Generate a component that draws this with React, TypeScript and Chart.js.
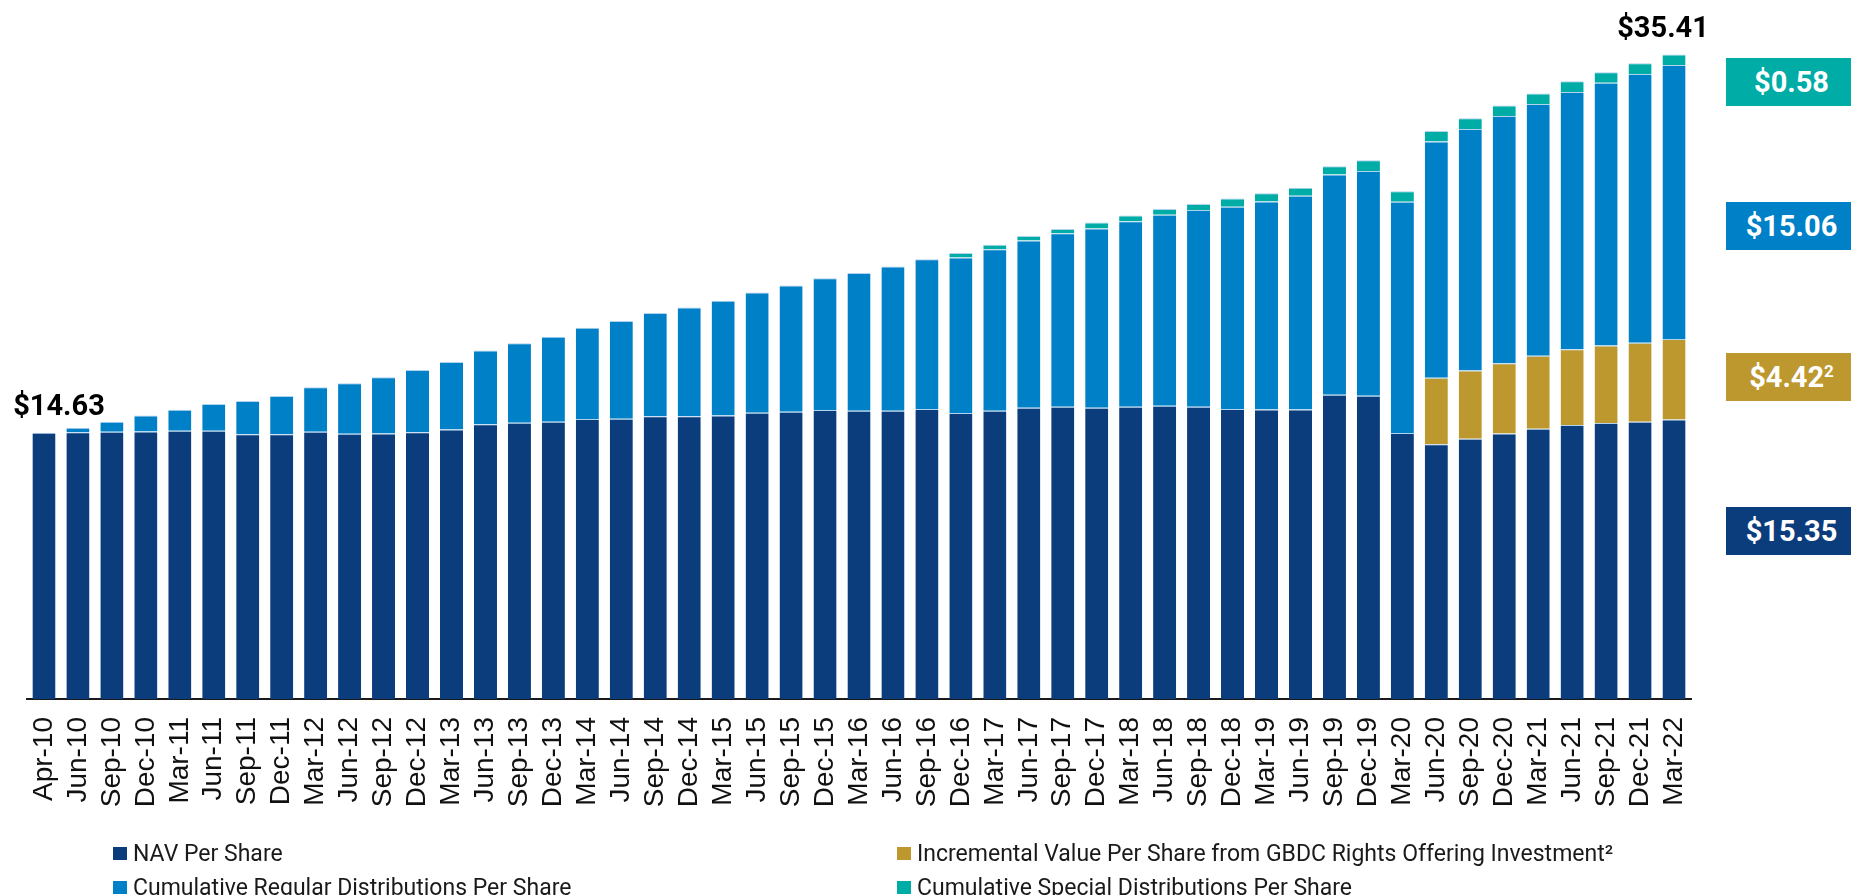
import React, { useEffect, useRef } from 'react';
import { Chart, registerables } from 'chart.js';

Chart.register(...registerables);

const categories = [
  'Apr-10', 'Jun-10', 'Sep-10', 'Dec-10',
  'Mar-11', 'Jun-11', 'Sep-11', 'Dec-11',
  'Mar-12', 'Jun-12', 'Sep-12', 'Dec-12',
  'Mar-13', 'Jun-13', 'Sep-13', 'Dec-13',
  'Mar-14', 'Jun-14', 'Sep-14', 'Dec-14',
  'Mar-15', 'Jun-15', 'Sep-15', 'Dec-15',
  'Mar-16', 'Jun-16', 'Sep-16', 'Dec-16',
  'Mar-17', 'Jun-17', 'Sep-17', 'Dec-17',
  'Mar-18', 'Jun-18', 'Sep-18', 'Dec-18',
  'Mar-19', 'Jun-19', 'Sep-19', 'Dec-19',
  'Mar-20', 'Jun-20', 'Sep-20', 'Dec-20',
  'Mar-21', 'Jun-21', 'Sep-21', 'Dec-21',
  'Mar-22',
];

const navPerShare = [
  14.63, 14.65, 14.68, 14.70,
  14.74, 14.74, 14.54, 14.54,
  14.68, 14.57, 14.59, 14.65,
  14.81, 15.10, 15.17, 15.23,
  15.38, 15.39, 15.53, 15.53,
  15.58, 15.72, 15.78, 15.87,
  15.83, 15.83, 15.93, 15.71,
  15.83, 16.00, 16.05, 16.00,
  16.05, 16.11, 16.05, 15.93,
  15.91, 15.91, 16.71, 16.66,
  14.61, 14.00, 14.30, 14.59,
  14.84, 15.05, 15.16, 15.23,
  15.35,
];

const rightsOfferingValue = [
  0, 0, 0, 0,
  0, 0, 0, 0,
  0, 0, 0, 0,
  0, 0, 0, 0,
  0, 0, 0, 0,
  0, 0, 0, 0,
  0, 0, 0, 0,
  0, 0, 0, 0,
  0, 0, 0, 0,
  0, 0, 0, 0,
  0, 3.65, 3.75, 3.86,
  4.01, 4.16, 4.26, 4.34,
  4.42,
];

const regularDistributions = [
  0, 0.25, 0.55, 0.88,
  1.15, 1.46, 1.83, 2.10,
  2.45, 2.77, 3.09, 3.42,
  3.70, 4.05, 4.38, 4.67,
  5.01, 5.37, 5.67, 5.98,
  6.30, 6.61, 6.94, 7.25,
  7.57, 7.93, 8.23, 8.55,
  8.88, 9.19, 9.53, 9.85,
  10.19, 10.49, 10.82, 11.11,
  11.42, 11.73, 12.11, 12.35,
  12.70, 12.98, 13.27, 13.58,
  13.84, 14.14, 14.43, 14.77,
  15.06,
];

const specialDistributions = [
  0, 0, 0, 0,
  0, 0, 0, 0,
  0, 0, 0, 0,
  0, 0, 0, 0,
  0, 0, 0, 0,
  0, 0, 0, 0,
  0, 0, 0, 0.24,
  0.24, 0.24, 0.24, 0.32,
  0.32, 0.32, 0.32, 0.45,
  0.45, 0.45, 0.45, 0.58,
  0.58, 0.58, 0.58, 0.58,
  0.58, 0.58, 0.58, 0.58,
  0.58,
];

const seriesNames = [
  'NAV Per Share',
  'Incremental Value Per Share from GBDC Rights Offering Investment²',
  'Cumulative Regular Distributions Per Share',
  'Cumulative Special Distributions Per Share',
];

const seriesColors = ['#0b3c7c', '#bd982e', '#0080c6', '#00aca6'];

const FONT = 'Roboto, "Noto Sans", sans-serif';
const TICK_FONT = '"Liberation Sans", Arial, sans-serif';

const totalAt = (i: number) =>
  navPerShare[i] + rightsOfferingValue[i] + regularDistributions[i] + specialDistributions[i];

const nz = (arr: number[]) => arr.map((v) => (v === 0 ? null : v));

const valueLabels = {
  id: 'valueLabels',
  afterDatasetsDraw(chart: any) {
    const ctx = chart.ctx;
    const last = categories.length - 1;
    const first = chart.getDatasetMeta(0).data[0];
    const top = chart.getDatasetMeta(3).data[last];
    ctx.save();
    ctx.font = `bold 29px ${FONT}`;
    ctx.fillStyle = '#000';
    ctx.textAlign = 'center';
    ctx.textBaseline = 'alphabetic';
    ctx.fillText('$' + totalAt(0).toFixed(2), first.x + 15, first.y - 18);
    ctx.fillText('$' + totalAt(last).toFixed(2), top.x - 11, top.y - 17);
    ctx.restore();
  },
};

export default function App() {
  const canvasRef = useRef<HTMLCanvasElement | null>(null);

  useEffect(() => {
    const canvas = canvasRef.current;
    if (!canvas) return;
    const barStyle = {
      categoryPercentage: 1,
      barPercentage: 0.68,
      borderWidth: { top: 1, left: 0, right: 0, bottom: 0 },
      borderColor: 'rgba(170,205,235,0.9)',
      borderSkipped: false,
    };
    const chart = new Chart(canvas, {
      type: 'bar',
      data: {
        labels: categories,
        datasets: [
          { label: seriesNames[0], data: nz(navPerShare), backgroundColor: seriesColors[0], ...barStyle },
          { label: seriesNames[1], data: nz(rightsOfferingValue), backgroundColor: seriesColors[1], ...barStyle },
          { label: seriesNames[2], data: nz(regularDistributions), backgroundColor: seriesColors[2], ...barStyle },
          { label: seriesNames[3], data: nz(specialDistributions), backgroundColor: seriesColors[3], ...barStyle },
        ] as any,
      },
      options: {
        responsive: false,
        animation: false,
        devicePixelRatio: 1,
        layout: { padding: { left: 27, right: 160, top: 0, bottom: 0 } },
        plugins: {
          legend: { display: false },
          tooltip: { enabled: false },
        },
        scales: {
          x: {
            stacked: true,
            grid: { display: false, drawTicks: false },
            border: { display: true, color: '#1a1a1a', width: 2 },
            ticks: {
              autoSkip: false,
              minRotation: 90,
              maxRotation: 90,
              padding: 18,
              color: '#111',
              font: { family: TICK_FONT, size: 28 },
            },
            afterFit: (scale: any) => {
              scale.height = 196;
            },
          },
          y: {
            stacked: true,
            display: false,
            min: 0,
            max: 38.4,
          },
        },
      },
      plugins: [valueLabels],
    });
    return () => chart.destroy();
  }, []);

  const last = categories.length - 1;
  const sideBoxes = [
    { text: '$' + specialDistributions[last].toFixed(2), sup: '', color: seriesColors[3], top: 58 },
    { text: '$' + regularDistributions[last].toFixed(2), sup: '', color: seriesColors[2], top: 202 },
    { text: '$' + rightsOfferingValue[last].toFixed(2), sup: '2', color: seriesColors[1], top: 353 },
    { text: '$' + navPerShare[last].toFixed(2), sup: '', color: seriesColors[0], top: 507 },
  ];

  const legendPos = [
    { left: 113, top: 840 },
    { left: 897, top: 840 },
    { left: 113, top: 874 },
    { left: 897, top: 874 },
  ];

  return (
    <div style={{ position: 'absolute', left: 0, top: 0, width: 1851, height: 895, overflow: 'hidden', background: '#fff' }}>
      <canvas ref={canvasRef} width={1851} height={895} style={{ position: 'absolute', left: 0, top: 0, width: 1851, height: 895 }} />
      {sideBoxes.map((b, i) => (
        <div
          key={i}
          style={{
            position: 'absolute',
            left: 1726,
            top: b.top,
            width: 125,
            height: 48,
            background: b.color,
            color: '#fff',
            fontFamily: FONT,
            fontWeight: 700,
            fontSize: 29,
            lineHeight: '48px',
            textAlign: 'center',
            paddingLeft: 6,
            boxSizing: 'border-box',
          }}
        >
          {b.text}
          {b.sup ? <sup style={{ fontSize: 17, verticalAlign: 'top', lineHeight: '36px' }}>{b.sup}</sup> : null}
        </div>
      ))}
      {seriesNames.map((name, i) => (
        <div
          key={name}
          style={{
            position: 'absolute',
            left: legendPos[i].left,
            top: legendPos[i].top,
            height: 26,
            display: 'flex',
            alignItems: 'center',
            fontFamily: FONT,
            fontSize: 23,
            color: '#1a1a1a',
            whiteSpace: 'nowrap',
          }}
        >
          <span style={{ display: 'inline-block', width: 14, height: 13, background: seriesColors[i], marginRight: 6 }} />
          <span>{name}</span>
        </div>
      ))}
    </div>
  );
}
